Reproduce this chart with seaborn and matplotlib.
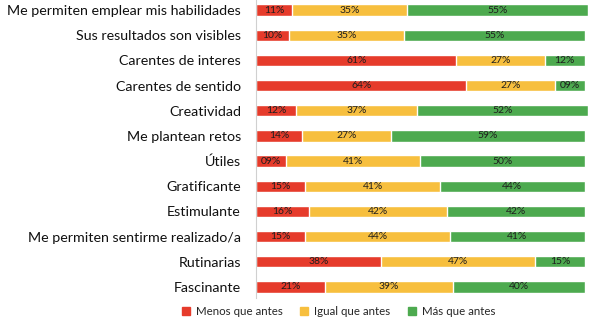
import pandas as pd
import numpy as np
import matplotlib
matplotlib.use("Agg")
import matplotlib.pyplot as plt
import seaborn as sns
from matplotlib.patches import Patch

categorias = ["Me permiten emplear mis habilidades", "Sus resultados son visibles",
              "Carentes de interes", "Carentes de sentido", "Creatividad",
              "Me plantean retos", "Útiles", "Gratificante", "Estimulante",
              "Me permiten sentirme realizado/a", "Rutinarias", "Fascinante"]
menos = [11, 10, 61, 64, 12, 14, 9, 15, 16, 15, 38, 21]
igual = [35, 35, 27, 27, 37, 27, 41, 41, 42, 44, 47, 39]
mas = [55, 55, 12, 9, 52, 59, 50, 44, 42, 41, 15, 40]
series = ["Menos que antes", "Igual que antes", "Más que antes"]
colores = ["#E63B2B", "#F7BF3E", "#4DAA4F"]

df = pd.DataFrame({"cat": categorias, "menos": menos, "igual": igual, "mas": mas})
df["c1"] = df["menos"]
df["c2"] = df["menos"] + df["igual"]
df["c3"] = df["c2"] + df["mas"]

sns.set_style("white")
plt.rcParams["font.family"] = ["Lato", "DejaVu Sans"]

fig = plt.figure(figsize=(5.89, 3.18), dpi=100)
ax = fig.add_axes([0.435, 0.063, 0.563, 0.937])

# stacked look: draw cumulative bars from longest to shortest
sns.barplot(data=df, x="c3", y="cat", color=colores[2], orient="h", width=0.45, ax=ax, saturation=1)
sns.barplot(data=df, x="c2", y="cat", color=colores[1], orient="h", width=0.45, ax=ax, saturation=1)
sns.barplot(data=df, x="c1", y="cat", color=colores[0], orient="h", width=0.45, ax=ax, saturation=1)

for i, row in df.iterrows():
    for left, w in [(0, row["menos"]), (row["c1"], row["igual"]), (row["c2"], row["mas"])]:
        ax.text(left + w / 2, i, f"{w:02d}%", ha="center", va="center",
                fontsize=7.5, color="#1e1e1e")

ax.set_xlim(0, 101)
ax.set_ylim(11.44, -0.4)
ax.set_xlabel("")
ax.set_ylabel("")
ax.set_xticks([])
ax.tick_params(axis="y", length=0, pad=11, labelsize=10.3, labelcolor="#111111")
for s in ["top", "right", "bottom"]:
    ax.spines[s].set_visible(False)
ax.spines["left"].set_color("#d0d0d0")
ax.spines["left"].set_linewidth(0.8)

handles = [Patch(color=c, label=s) for c, s in zip(colores, series)]
fig.legend(handles=handles, loc="lower center", bbox_to_anchor=(0.575, -0.03), ncol=3,
           frameon=False, fontsize=8.3, handlelength=0.7, handleheight=0.7,
           columnspacing=1.5, handletextpad=0.5)

fig.savefig("out.png", dpi=100)
